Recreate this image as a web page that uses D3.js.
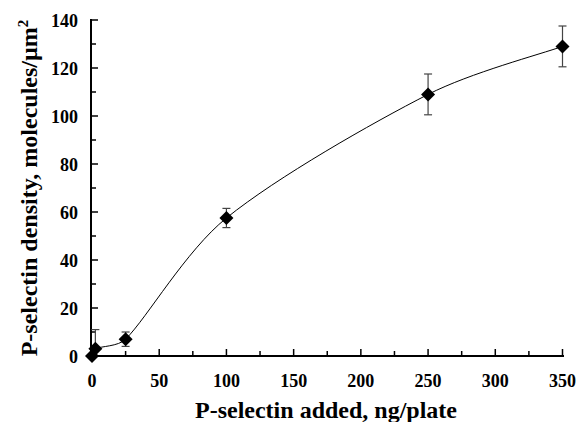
<!DOCTYPE html>
<html>
<head>
<meta charset="utf-8">
<script src="https://cdn.jsdelivr.net/npm/d3@7"></script>
<style>
  body { margin: 0; background: #fff; }
  text { font-family: "Liberation Serif", "Times New Roman", serif; font-weight: bold; fill: #000; }
</style>
</head>
<body>
<svg id="chart" width="578" height="422"></svg>
<script>
// values
var added = [0, 2.5, 25, 100, 250, 350];          // ng/plate
var density = [0, 3, 7, 57.5, 109, 129];          // molecules/um2
var errs = [0, 8, 3, 4, 8.5, 8.5];
var xTicks = [0, 50, 100, 150, 200, 250, 300, 350];
var yTicks = [0, 20, 40, 60, 80, 100, 120, 140];

var svg = d3.select('#chart');

var x = d3.scaleLinear().domain([0, 350]).range([92, 562.5]);
var y = d3.scaleLinear().domain([0, 140]).range([356, 20]);

var pts = added.map((d, i) => ({ x: d, y: density[i], e: errs[i] }));

// excel-like smoothing: catmull-rom tangents, capped so short segments don't loop
function smoothCurve(context) {
  var p;
  function cap(t, L) {
    var len = Math.hypot(t[0], t[1]);
    return len > L ? [t[0] * L / len, t[1] * L / len] : t;
  }
  return {
    areaStart() {}, areaEnd() {},
    lineStart() { p = []; },
    point(x, y) { p.push([+x, +y]); },
    lineEnd() {
      var n = p.length;
      var tan = p.map((d, i) => {
        var a = p[Math.max(0, i - 1)], b = p[Math.min(n - 1, i + 1)];
        return [(b[0] - a[0]) / 6, (b[1] - a[1]) / 6];
      });
      context.moveTo(p[0][0], p[0][1]);
      for (var i = 0; i < n - 1; i++) {
        var a = p[i], b = p[i + 1];
        var L = Math.hypot(b[0] - a[0], b[1] - a[1]) / 3;
        var t0 = cap(tan[i], L), t1 = cap(tan[i + 1], L);
        context.bezierCurveTo(a[0] + t0[0], a[1] + t0[1], b[0] - t1[0], b[1] - t1[1], b[0], b[1]);
      }
    }
  };
}

// axes - ticks point inward
var xAxis = svg.append('g').attr('transform', 'translate(0,356)');
xAxis.append('line').attr('x1', 91).attr('x2', 564).attr('stroke', '#000').attr('stroke-width', 2);
xAxis.selectAll('.minor').data(d3.range(25, 350, 50)).enter().append('line')
  .attr('x1', d => x(d)).attr('x2', d => x(d)).attr('y1', 0).attr('y2', -5)
  .attr('stroke', '#000').attr('stroke-width', 1.5);
xAxis.selectAll('.major').data(xTicks).enter().append('line')
  .attr('x1', d => x(d)).attr('x2', d => x(d)).attr('y1', 0).attr('y2', -7)
  .attr('stroke', '#000').attr('stroke-width', 1.5);
xAxis.selectAll('.lab').data(xTicks).enter().append('text')
  .attr('x', d => x(d)).attr('y', 31).attr('text-anchor', 'middle')
  .style('font-size', '18px').text(d => d);

var yAxis = svg.append('g').attr('transform', 'translate(91,0)');
yAxis.append('line').attr('y1', 19).attr('y2', 357).attr('stroke', '#000').attr('stroke-width', 2);
yAxis.selectAll('.minor').data(d3.range(10, 140, 20)).enter().append('line')
  .attr('y1', d => y(d)).attr('y2', d => y(d)).attr('x1', 0).attr('x2', 5)
  .attr('stroke', '#000').attr('stroke-width', 1.5);
yAxis.selectAll('.major').data(yTicks).enter().append('line')
  .attr('y1', d => y(d)).attr('y2', d => y(d)).attr('x1', 0).attr('x2', 7)
  .attr('stroke', '#000').attr('stroke-width', 1.5);
yAxis.selectAll('.lab').data(yTicks).enter().append('text')
  .attr('x', -13).attr('y', d => y(d) + 6.5).attr('text-anchor', 'end')
  .style('font-size', '18px').text(d => d);

// smooth curve
var line = d3.line().x(d => x(d.x)).y(d => y(d.y)).curve(smoothCurve);
svg.append('path').datum(pts).attr('d', line)
  .attr('fill', 'none').attr('stroke', '#000').attr('stroke-width', 1);

// error bars, cut at the x axis
var eb = svg.append('g').attr('stroke', '#444').attr('stroke-width', 1.2);
pts.filter(d => d.e > 0).forEach(d => {
  var cx = x(d.x);
  var lo = Math.max(0, d.y - d.e);
  eb.append('line').attr('x1', cx).attr('x2', cx).attr('y1', y(lo)).attr('y2', y(d.y + d.e));
  eb.append('line').attr('x1', cx - 4).attr('x2', cx + 4).attr('y1', y(d.y + d.e)).attr('y2', y(d.y + d.e));
  if (d.y - d.e > 0)
    eb.append('line').attr('x1', cx - 4).attr('x2', cx + 4).attr('y1', y(lo)).attr('y2', y(lo));
});

// diamonds
svg.selectAll('.pt').data(pts).enter().append('path')
  .attr('transform', d => 'translate(' + x(d.x) + ',' + y(d.y) + ')')
  .attr('d', 'M0,-7L7,0L0,7L-7,0Z').attr('fill', '#000');

// titles
svg.append('text').attr('x', 326).attr('y', 418).attr('text-anchor', 'middle')
  .style('font-size', '24px').text('P-selectin added, ng/plate');
svg.append('text').attr('transform', 'translate(37,188) rotate(-90)').attr('text-anchor', 'middle')
  .style('font-size', '24px')
  .html('P-selectin density, molecules/\u00b5m<tspan dy="-9" style="font-size:15px">2</tspan>');
</script>
</body>
</html>
